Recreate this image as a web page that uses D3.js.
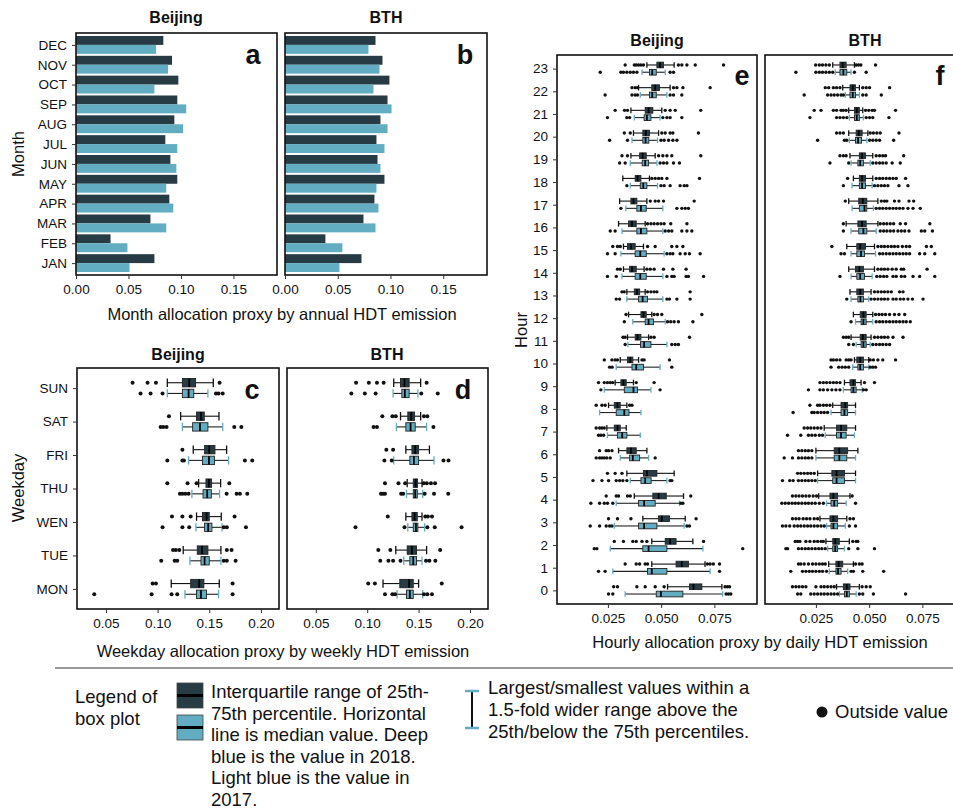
<!DOCTYPE html>
<html>
<head>
<meta charset="utf-8">
<script src="https://d3js.org/d3.v7.min.js"></script>
<style>
  body { margin: 0; background: #fff; }
  text { font-family: "Liberation Sans", Arial, sans-serif; fill: #111; }
</style>
</head>
<body>
<div id="chart"></div>
<script>
// ---------- data ----------
const months = ["JAN","FEB","MAR","APR","MAY","JUN","JUL","AUG","SEP","OCT","NOV","DEC"];
const monthBJ2018  = [0.0747,0.0329,0.0709,0.0889,0.0965,0.0899,0.0851,0.0937,0.0965,0.0975,0.0915,0.0832];
const monthBJ2017  = [0.0510,0.0490,0.0860,0.0927,0.0860,0.0956,0.0965,0.1020,0.1050,0.0747,0.0877,0.0763];
const monthBTH2018 = [0.0725,0.0383,0.0744,0.0848,0.0943,0.0877,0.0867,0.0905,0.0972,0.0990,0.0924,0.0858];
const monthBTH2017 = [0.0516,0.0544,0.0858,0.0886,0.0867,0.0905,0.0943,0.0972,0.1010,0.0839,0.0896,0.0791];

const weekdays = ["MON","TUE","WEN","THU","FRI","SAT","SUN"];
// box stats: [lower whisker, q1, median, q3, upper whisker]
const weekBJ2018 = [
  [0.1132,0.1320,0.1403,0.1448,0.1597],[0.1248,0.1384,0.1430,0.1487,0.1613],[0.1377,0.1435,0.1474,0.1500,0.1616],
  [0.1397,0.1468,0.1497,0.1523,0.1610],[0.1345,0.1455,0.1500,0.1555,0.1668],[0.1223,0.1377,0.1420,0.1452,0.1594],
  [0.1094,0.1240,0.1306,0.1368,0.1539]];
const weekBJ2018Out = [
  [0.0952,0.0984,0.1726],[0.1150,0.1177,0.1210,0.1670,0.1716],[0.1139,0.1240,0.1320,0.1745],
  [0.1094,0.1290,0.1377,0.1694],[0.1240],[0.1110],[0.0758,0.0903,0.0984,0.1600]];
const weekBJ2017 = [
  [0.1265,0.1377,0.1420,0.1474,0.1590],[0.1313,0.1420,0.1455,0.1500,0.1613],[0.1371,0.1455,0.1490,0.1526,0.1623],
  [0.1332,0.1440,0.1480,0.1520,0.1600],[0.1300,0.1435,0.1497,0.1550,0.1687],[0.1240,0.1339,0.1410,0.1487,0.1630],
  [0.1094,0.1240,0.1300,0.1350,0.1487]];
const weekBJ2017Out = [
  [0.0387,0.0942,0.1135,0.1190,0.1726],[0.1035,0.1165,0.1190,0.1640,0.1670,0.1755],[0.1048,0.1240,0.1306,0.1640,0.1670,0.1855],
  [0.1216,0.1240,0.1268,0.1300,0.1668,0.1765,0.1797,0.1868],[0.1094,0.1240,0.1255,0.1845,0.1916],
  [0.1029,0.1055,0.1087,0.1742,0.1810],[0.0835,0.0932,0.1048,0.1565,0.1590,0.1630]];
const weekBTH2018 = [
  [0.1154,0.1317,0.1408,0.1448,0.1500],[0.1278,0.1389,0.1435,0.1480,0.1578],[0.1376,0.1435,0.1461,0.1487,0.1533],
  [0.1389,0.1448,0.1471,0.1490,0.1533],[0.1376,0.1435,0.1467,0.1500,0.1605],[0.1324,0.1395,0.1428,0.1461,0.1520],
  [0.1258,0.1324,0.1363,0.1408,0.1520]];
const weekBTH2018Out = [
  [0.1010,0.1075,0.1725],[0.1108,0.1225,0.1710],[0.1200,0.1565,0.1590,0.1630],
  [0.1173,0.1304,0.1369,0.1550,0.1580,0.1620,0.1660],[0.1186,0.1252],[0.1147,0.1245,0.1278,0.1552,0.1585],
  [0.0892,0.1016,0.1095,0.1160,0.1578]];
const weekBTH2017 = [
  [0.1291,0.1382,0.1415,0.1448,0.1540],[0.1356,0.1415,0.1448,0.1480,0.1533],[0.1395,0.1448,0.1474,0.1493,0.1559],
  [0.1382,0.1448,0.1467,0.1487,0.1540],[0.1258,0.1415,0.1454,0.1500,0.1650],[0.1284,0.1376,0.1422,0.1467,0.1578],
  [0.1252,0.1337,0.1366,0.1408,0.1493]];
const weekBTH2017Out = [
  [0.1173,0.1245,0.1271,0.1552,0.1585,0.1630],[0.1127,0.1206,0.1252,0.1324,0.1572,0.1605,0.1663],
  [0.0886,0.1363,0.1585,0.1657,0.1918],[0.1134,0.1154,0.1173,0.1330,0.1350,0.1559,0.1650,0.1788],
  [0.1167,0.1239,0.1742,0.1791],[0.1062,0.1095,0.1644],[0.0846,0.0977,0.1082,0.1526,0.1686]];

const hours = ["0","1","2","3","4","5","6","7","8","9","10","11","12","13","14","15","16","17","18","19","20","21","22","23"];
const hourBJ2018 = [
  [0.0530,0.0633,0.0652,0.0691,0.0785],[0.0456,0.0570,0.0597,0.0628,0.0706],[0.0456,0.0519,0.0542,0.0570,0.0649],
  [0.0414,0.0488,0.0503,0.0539,0.0613],[0.0374,0.0461,0.0488,0.0524,0.0605],[0.0339,0.0417,0.0433,0.0480,0.0561],
  [0.0300,0.0339,0.0358,0.0383,0.0433],[0.0245,0.0280,0.0295,0.0308,0.0336],[0.0253,0.0280,0.0295,0.0308,0.0339],
  [0.0284,0.0311,0.0323,0.0336,0.0370],[0.0308,0.0342,0.0355,0.0367,0.0394],[0.0342,0.0378,0.0389,0.0405,0.0441],
  [0.0347,0.0405,0.0417,0.0430,0.0456],[0.0339,0.0374,0.0386,0.0399,0.0425],[0.0323,0.0352,0.0363,0.0383,0.0420],
  [0.0323,0.0342,0.0358,0.0378,0.0417],[0.0300,0.0347,0.0363,0.0383,0.0425],[0.0305,0.0358,0.0370,0.0386,0.0433],
  [0.0320,0.0378,0.0389,0.0405,0.0445],[0.0358,0.0399,0.0413,0.0430,0.0472],[0.0370,0.0414,0.0428,0.0445,0.0488],
  [0.0358,0.0425,0.0441,0.0461,0.0503],[0.0394,0.0456,0.0472,0.0492,0.0542],[0.0433,0.0480,0.0495,0.0511,0.0561]];
const hourBJ2018Out = [
  [0.0277,0.0295,0.0386,0.0425,0.0472,0.0514,0.0800,0.0811,0.0821],
  [0.0331,0.0383,0.0399,0.0425,0.0436,0.0717,0.0730,0.0745,0.0774],
  [0.0280,0.0323,0.0367,0.0383,0.0410,0.0433,0.0699],
  [0.0253,0.0295,0.0358,0.0664],
  [0.0242,0.0289,0.0300,0.0342,0.0355,0.0639],
  [0.0248,0.0284,0.0316],
  [0.0211,0.0242,0.0253,0.0269],
  [0.0195,0.0211,0.0222,0.0233],
  [0.0195,0.0222,0.0237,0.0352,0.0363],
  [0.0206,0.0233,0.0248,0.0261,0.0273,0.0383,0.0467],
  [0.0233,0.0269,0.0284,0.0295,0.0410,0.0420,0.0539],
  [0.0321,0.0331,0.0452,0.0467,0.0633],
  [0.0335,0.0467,0.0483,0.0503,0.0691],
  [0.0316,0.0327,0.0436,0.0452,0.0467,0.0480,0.0636],
  [0.0295,0.0308,0.0433,0.0449,0.0467,0.0511,0.0555,0.0617],
  [0.0273,0.0295,0.0308,0.0436,0.0472,0.0550,0.0574,0.0602],
  [0.0436,0.0452,0.0467,0.0483,0.0499,0.0514,0.0545,0.0621],
  [0.0449,0.0472,0.0488,0.0511,0.0655],
  [0.0456,0.0472,0.0488,0.0503,0.0527,0.0680],
  [0.0316,0.0342,0.0488,0.0508,0.0527,0.0550,0.0686],
  [0.0327,0.0355,0.0503,0.0519,0.0542,0.0555,0.0675],
  [0.0284,0.0328,0.0342,0.0519,0.0542,0.0566,0.0686],
  [0.0363,0.0378,0.0389,0.0558,0.0574,0.0602,0.0730],
  [0.0331,0.0374,0.0383,0.0394,0.0405,0.0417,0.0581,0.0597,0.0621,0.0660,0.0793]];
const hourBJ2017 = [
  [0.0331,0.0477,0.0499,0.0602,0.0789],[0.0273,0.0436,0.0456,0.0527,0.0730],[0.0261,0.0414,0.0441,0.0527,0.0696],
  [0.0280,0.0394,0.0420,0.0480,0.0608],[0.0289,0.0394,0.0420,0.0472,0.0586],[0.0355,0.0405,0.0425,0.0453,0.0527],
  [0.0308,0.0352,0.0367,0.0399,0.0441],[0.0248,0.0295,0.0317,0.0339,0.0402],[0.0211,0.0289,0.0327,0.0349,0.0405],
  [0.0233,0.0327,0.0370,0.0389,0.0452],[0.0289,0.0363,0.0383,0.0417,0.0495],[0.0344,0.0403,0.0420,0.0452,0.0527],
  [0.0367,0.0425,0.0441,0.0464,0.0519],[0.0339,0.0394,0.0413,0.0436,0.0508],[0.0316,0.0378,0.0402,0.0430,0.0508],
  [0.0311,0.0378,0.0402,0.0430,0.0514],[0.0316,0.0386,0.0405,0.0433,0.0508],[0.0334,0.0386,0.0405,0.0430,0.0508],
  [0.0355,0.0402,0.0416,0.0433,0.0483],[0.0355,0.0411,0.0425,0.0441,0.0480],[0.0363,0.0414,0.0427,0.0442,0.0483],
  [0.0374,0.0420,0.0433,0.0452,0.0495],[0.0402,0.0445,0.0458,0.0477,0.0527],[0.0410,0.0445,0.0458,0.0477,0.0519]];
const hourBJ2017Out = [
  [0.0253,0.0273,0.0805,0.0816,0.0827],
  [0.0206,0.0237,0.0774],
  [0.0186,0.0198,0.0883],
  [0.0167,0.0211,0.0242,0.0258,0.0269,0.0621,0.0633],
  [0.0170,0.0211,0.0233,0.0248,0.0273,0.0592,0.0602],
  [0.0180,0.0222,0.0253,0.0289,0.0305,0.0320,0.0339,0.0542,0.0550],
  [0.0195,0.0211,0.0222,0.0233,0.0245,0.0261,0.0472],
  [0.0206,0.0217,0.0230],
  [],
  [0.0217,0.0495],
  [0.0258,0.0270,0.0550],
  [0.0331,0.0550,0.0566,0.0581],
  [0.0327,0.0530,0.0545,0.0561,0.0581,0.0649],
  [0.0289,0.0305,0.0527,0.0539,0.0574,0.0636],
  [0.0248,0.0289,0.0527,0.0550,0.0561,0.0617,0.0628,0.0699],
  [0.0248,0.0284,0.0527,0.0542,0.0555,0.0589,0.0613,0.0633,0.0683],
  [0.0261,0.0284,0.0519,0.0535,0.0550,0.0597,0.0621,0.0644],
  [0.0311,0.0574,0.0597,0.0613,0.0628],
  [0.0339,0.0499,0.0514,0.0542,0.0589,0.0608,0.0621],
  [0.0305,0.0331,0.0495,0.0511,0.0527,0.0558,0.0586],
  [0.0258,0.0342,0.0499,0.0514,0.0535,0.0555,0.0574],
  [0.0248,0.0339,0.0352,0.0508,0.0527,0.0542,0.0597],
  [0.0237,0.0363,0.0378,0.0389,0.0542,0.0558,0.0597],
  [0.0214,0.0311,0.0323,0.0339,0.0355,0.0370,0.0386,0.0542,0.0558]];
const hourBTH2018 = [
  [0.0347,0.0379,0.0395,0.0410,0.0454],[0.0310,0.0344,0.0357,0.0376,0.0426],[0.0297,0.0329,0.0341,0.0360,0.0407],
  [0.0269,0.0316,0.0332,0.0352,0.0395],[0.0263,0.0316,0.0332,0.0352,0.0410],[0.0258,0.0325,0.0347,0.0384,0.0436],
  [0.0250,0.0336,0.0360,0.0399,0.0447],[0.0289,0.0347,0.0368,0.0395,0.0436],[0.0329,0.0368,0.0388,0.0399,0.0436],
  [0.0384,0.0410,0.0426,0.0436,0.0462],[0.0431,0.0442,0.0458,0.0473,0.0498],[0.0415,0.0458,0.0470,0.0486,0.0509],
  [0.0426,0.0458,0.0473,0.0486,0.0517],[0.0410,0.0442,0.0458,0.0473,0.0509],[0.0404,0.0436,0.0454,0.0473,0.0525],
  [0.0395,0.0442,0.0458,0.0483,0.0525],[0.0392,0.0447,0.0467,0.0486,0.0541],[0.0404,0.0451,0.0470,0.0489,0.0541],
  [0.0426,0.0454,0.0467,0.0483,0.0517],[0.0410,0.0454,0.0467,0.0483,0.0517],[0.0404,0.0439,0.0451,0.0467,0.0494],
  [0.0404,0.0431,0.0442,0.0454,0.0470],[0.0376,0.0410,0.0423,0.0436,0.0454],[0.0329,0.0363,0.0376,0.0392,0.0431]];
const hourBTH2018Out = [
  [0.0140,0.0156,0.0171,0.0187,0.0203,0.0250,0.0274,0.0289,0.0305,0.0321,0.0336,0.0467,0.0486,0.0505],
  [0.0168,0.0179,0.0195,0.0215,0.0234,0.0250,0.0266,0.0281,0.0294,0.0436,0.0454,0.0467],
  [0.0153,0.0164,0.0175,0.0203,0.0222,0.0242,0.0258,0.0274,0.0285,0.0423,0.0439,0.0447],
  [0.0140,0.0156,0.0171,0.0190,0.0206,0.0222,0.0242,0.0258,0.0410,0.0426],
  [0.0140,0.0156,0.0171,0.0187,0.0203,0.0219,0.0237,0.0253,0.0420],
  [0.0164,0.0179,0.0195,0.0211,0.0226,0.0242],
  [0.0168,0.0184,0.0200,0.0215,0.0231],
  [0.0195,0.0211,0.0226,0.0242,0.0258,0.0274],
  [0.0222,0.0258,0.0269,0.0285,0.0300,0.0316],
  [0.0269,0.0285,0.0300,0.0316,0.0332,0.0347,0.0363,0.0478,0.0525],
  [0.0321,0.0332,0.0347,0.0363,0.0392,0.0404,0.0415,0.0505,0.0520,0.0541,0.0564,0.0624],
  [0.0379,0.0392,0.0404,0.0525,0.0541,0.0557,0.0572,0.0588,0.0612,0.0659],
  [0.0530,0.0546,0.0561,0.0577,0.0596,0.0619,0.0640,0.0667],
  [0.0525,0.0541,0.0557,0.0572,0.0588,0.0604,0.0643,0.0659],
  [0.0541,0.0557,0.0572,0.0588,0.0608,0.0627,0.0651,0.0662,0.0772],
  [0.0325,0.0541,0.0557,0.0572,0.0588,0.0604,0.0619,0.0635,0.0656,0.0674,0.0690,0.0769,0.0792],
  [0.0379,0.0552,0.0568,0.0583,0.0599,0.0615,0.0646,0.0671,0.0785],
  [0.0388,0.0557,0.0572,0.0583,0.0619,0.0640,0.0687,0.0709],
  [0.0399,0.0533,0.0549,0.0564,0.0580,0.0596,0.0612,0.0627,0.0671],
  [0.0363,0.0379,0.0392,0.0533,0.0549,0.0564,0.0577,0.0662],
  [0.0347,0.0363,0.0379,0.0505,0.0520,0.0536,0.0552,0.0640],
  [0.0242,0.0274,0.0332,0.0347,0.0368,0.0379,0.0392,0.0483,0.0498,0.0514,0.0525,0.0624],
  [0.0294,0.0310,0.0332,0.0347,0.0363,0.0470,0.0486,0.0502,0.0596],
  [0.0249,0.0266,0.0281,0.0297,0.0313,0.0439,0.0450,0.0461,0.0530]];
const hourBTH2017 = [
  [0.0360,0.0384,0.0395,0.0407,0.0439],[0.0313,0.0344,0.0354,0.0368,0.0399],[0.0305,0.0329,0.0341,0.0352,0.0384],
  [0.0300,0.0321,0.0332,0.0352,0.0388],[0.0300,0.0321,0.0336,0.0352,0.0392],[0.0258,0.0329,0.0347,0.0384,0.0436],
  [0.0250,0.0336,0.0360,0.0395,0.0436],[0.0294,0.0347,0.0368,0.0392,0.0431],[0.0321,0.0368,0.0384,0.0399,0.0436],
  [0.0379,0.0415,0.0426,0.0439,0.0467],[0.0423,0.0447,0.0458,0.0473,0.0498],[0.0439,0.0462,0.0473,0.0486,0.0505],
  [0.0436,0.0462,0.0473,0.0486,0.0517],[0.0415,0.0447,0.0459,0.0473,0.0498],[0.0415,0.0442,0.0458,0.0478,0.0514],
  [0.0415,0.0442,0.0462,0.0478,0.0530],[0.0415,0.0451,0.0473,0.0489,0.0533],[0.0420,0.0454,0.0478,0.0489,0.0520],
  [0.0420,0.0454,0.0467,0.0483,0.0514],[0.0415,0.0447,0.0458,0.0473,0.0505],[0.0407,0.0436,0.0448,0.0464,0.0489],
  [0.0407,0.0431,0.0442,0.0454,0.0473],[0.0388,0.0410,0.0423,0.0436,0.0454],[0.0341,0.0363,0.0379,0.0395,0.0415]];
const hourBTH2017Out = [
  [0.0164,0.0179,0.0226,0.0242,0.0258,0.0274,0.0289,0.0305,0.0321,0.0336,0.0352,0.0454,0.0470,0.0520,0.0671],
  [0.0132,0.0187,0.0203,0.0219,0.0234,0.0250,0.0266,0.0281,0.0300,0.0415,0.0426,0.0470,0.0568],
  [0.0109,0.0117,0.0168,0.0184,0.0200,0.0215,0.0231,0.0247,0.0263,0.0278,0.0294,0.0404,0.0447,0.0525],
  [0.0093,0.0109,0.0127,0.0148,0.0164,0.0179,0.0195,0.0211,0.0226,0.0242,0.0258,0.0274,0.0289,0.0407,0.0436],
  [0.0090,0.0106,0.0122,0.0138,0.0153,0.0168,0.0184,0.0200,0.0215,0.0231,0.0247,0.0266,0.0285,0.0436],
  [0.0093,0.0127,0.0143,0.0168,0.0184,0.0200,0.0215,0.0231,0.0247],
  [0.0101,0.0140,0.0168,0.0184,0.0200,0.0215,0.0231],
  [0.0117,0.0179,0.0215,0.0231,0.0247,0.0266,0.0281],
  [0.0143,0.0231,0.0242,0.0258,0.0274,0.0289,0.0305],
  [0.0215,0.0269,0.0285,0.0305,0.0325,0.0344,0.0363,0.0473,0.0486],
  [0.0321,0.0357,0.0373,0.0388,0.0404,0.0505,0.0517,0.0530],
  [0.0404,0.0426,0.0517,0.0533,0.0549,0.0564,0.0580,0.0596],
  [0.0415,0.0533,0.0549,0.0564,0.0580,0.0596,0.0612,0.0627,0.0643,0.0659,0.0674,0.0693],
  [0.0395,0.0509,0.0525,0.0541,0.0557,0.0572,0.0588,0.0612,0.0627,0.0646,0.0662,0.0682,0.0703,0.0753],
  [0.0363,0.0536,0.0552,0.0568,0.0583,0.0612,0.0627,0.0651,0.0667,0.0706,0.0737,0.0808],
  [0.0368,0.0384,0.0549,0.0564,0.0580,0.0596,0.0612,0.0627,0.0643,0.0659,0.0674,0.0690,0.0737,0.0761,0.0808],
  [0.0379,0.0552,0.0568,0.0583,0.0599,0.0615,0.0635,0.0651,0.0667,0.0687,0.0745,0.0761,0.0797],
  [0.0533,0.0549,0.0564,0.0580,0.0596,0.0612,0.0627,0.0643,0.0659,0.0682,0.0706,0.0740],
  [0.0379,0.0525,0.0541,0.0557,0.0572,0.0588,0.0640,0.0682],
  [0.0316,0.0404,0.0517,0.0533,0.0549,0.0564,0.0580,0.0608,0.0646],
  [0.0258,0.0384,0.0395,0.0502,0.0517,0.0533,0.0549,0.0615],
  [0.0222,0.0347,0.0363,0.0379,0.0395,0.0486,0.0502,0.0517,0.0593],
  [0.0195,0.0305,0.0321,0.0336,0.0352,0.0368,0.0379,0.0470,0.0486,0.0557],
  [0.0156,0.0250,0.0266,0.0281,0.0297,0.0313,0.0329,0.0431,0.0486]];

// ---------- drawing ----------
const dark = "#263b44", light = "#63adc3";
const W = 953, H = 811;
const svg = d3.select("#chart").append("svg").attr("width", W).attr("height", H);

function catScale(cats, y0, y1) {
  return d3.scalePoint().domain(cats.slice().reverse()).range([y0, y1]).padding(0.6);
}

function frame(x0, x1, y0, y1) {
  svg.append("rect").attr("x", x0).attr("y", y0).attr("width", x1 - x0).attr("height", y1 - y0)
    .attr("fill", "none").attr("stroke", "#111").attr("stroke-width", 1.6);
}

function xAxis(x, y1, ticks, fmt) {
  const g = svg.append("g").attr("transform", `translate(0,${y1})`)
    .call(d3.axisBottom(x).tickValues(ticks).tickSize(4).tickPadding(5).tickFormat(d3.format(fmt)));
  g.select(".domain").remove();
  g.selectAll("line").attr("stroke", "#333");
  g.selectAll("text").style("font-size", "13.5px").attr("fill", "#222");
}

function yAxis(y, x0) {
  const g = svg.append("g").attr("transform", `translate(${x0},0)`)
    .call(d3.axisLeft(y).tickSize(4).tickPadding(5));
  g.select(".domain").remove();
  g.selectAll("line").attr("stroke", "#333");
  g.selectAll("text").style("font-size", "13.5px").attr("fill", "#222");
}

function title(txt, x, y) {
  svg.append("text").attr("x", x).attr("y", y).attr("text-anchor", "middle")
    .style("font-size", "16px").style("font-weight", "bold").text(txt);
}
function letter(txt, x, y) {
  svg.append("text").attr("x", x).attr("y", y).attr("text-anchor", "middle")
    .style("font-size", "27px").style("font-weight", "bold").text(txt);
}
function axisTitle(txt, x, y, rot) {
  const t = svg.append("text").attr("text-anchor", "middle").style("font-size", "16.5px").text(txt);
  if (rot) t.attr("transform", `translate(${x},${y}) rotate(-90)`);
  else t.attr("x", x).attr("y", y);
}

function barPanel(x0, x1, y0, y1, v18, v17, showY) {
  const x = d3.scaleLinear().domain([0, 0.1915]).range([x0, x1]);
  const y = catScale(months, y0, y1);
  const bh = y.step() * 0.45;
  const g = svg.append("g");
  g.selectAll(".b18").data(months).join("rect")
    .attr("x", x(0)).attr("y", d => y(d) - bh).attr("height", bh)
    .attr("width", (d, i) => x(v18[i]) - x(0)).attr("fill", dark);
  g.selectAll(".b17").data(months).join("rect")
    .attr("x", x(0)).attr("y", d => y(d)).attr("height", bh)
    .attr("width", (d, i) => x(v17[i]) - x(0)).attr("fill", light);
  frame(x0, x1, y0, y1);
  xAxis(x, y1, [0, 0.05, 0.1, 0.15], ".2f");
  if (showY) yAxis(y, x0);
}

function boxPanel(cats, x, x0, x1, y0, y1, s18, o18, s17, o17, r, showY) {
  const y = catScale(cats, y0, y1);
  const step = y.step(), off = step * 0.16, bh = step * 0.25;
  const g = svg.append("g");
  const sets = [
    { s: s18, o: o18, fill: dark, dy: -off, wl: "#111", cap: "#111" },
    { s: s17, o: o17, fill: light, dy: off, wl: "#222", cap: light }
  ];
  sets.forEach(set => {
    cats.forEach((c, i) => {
      const st = set.s[i], cy = y(c) + set.dy;
      g.append("line").attr("x1", x(st[0])).attr("x2", x(st[1])).attr("y1", cy).attr("y2", cy)
        .attr("stroke", set.wl).attr("stroke-width", 1.1);
      g.append("line").attr("x1", x(st[3])).attr("x2", x(st[4])).attr("y1", cy).attr("y2", cy)
        .attr("stroke", set.wl).attr("stroke-width", 1.1);
      [st[0], st[4]].forEach(v => g.append("line").attr("x1", x(v)).attr("x2", x(v))
        .attr("y1", cy - bh / 2).attr("y2", cy + bh / 2).attr("stroke", set.cap).attr("stroke-width", 1.3));
      g.append("rect").attr("x", x(st[1])).attr("y", cy - bh / 2)
        .attr("width", x(st[3]) - x(st[1])).attr("height", bh)
        .attr("fill", set.fill).attr("stroke", "#222").attr("stroke-width", 0.9);
      g.append("line").attr("x1", x(st[2])).attr("x2", x(st[2]))
        .attr("y1", cy - bh / 2).attr("y2", cy + bh / 2).attr("stroke", "#000").attr("stroke-width", 1.8);
      g.selectAll(null).data(set.o[i]).join("circle")
        .attr("cx", d => x(d)).attr("cy", cy).attr("r", r).attr("fill", "#111");
    });
  });
  frame(x0, x1, y0, y1);
  if (showY) yAxis(y, x0);
}

// panels a, b
title("Beijing", 176, 23);
title("BTH", 386, 23);
barPanel(76, 277, 33, 275, monthBJ2018, monthBJ2017, true);
barPanel(285, 487, 33, 275, monthBTH2018, monthBTH2017, false);
letter("a", 253, 64);
letter("b", 465, 64);
axisTitle("Month allocation proxy by annual HDT emission", 282, 320);
axisTitle("Month", 24, 154, true);

// panels c, d
const xWeekC = d3.scaleLinear().domain([0.022, 0.2175]).range([77, 279]);
const xWeekD = d3.scaleLinear().domain([0.022, 0.2175]).range([287, 488]);
title("Beijing", 178, 360);
title("BTH", 387, 360);
boxPanel(weekdays, xWeekC, 77, 279, 368, 609, weekBJ2018, weekBJ2018Out, weekBJ2017, weekBJ2017Out, 2, true);
boxPanel(weekdays, xWeekD, 287, 488, 368, 609, weekBTH2018, weekBTH2018Out, weekBTH2017, weekBTH2017Out, 2, false);
xAxis(xWeekC, 609, [0.05, 0.1, 0.15, 0.2], ".2f");
xAxis(xWeekD, 609, [0.05, 0.1, 0.15, 0.2], ".2f");
letter("c", 252, 399);
letter("d", 463, 399);
axisTitle("Weekday allocation proxy by weekly HDT emission", 283, 657);
axisTitle("Weekday", 24, 488, true);

// panels e, f
const xHourE = d3.scaleLinear().domain([0.0011, 0.095]).range([557, 757]);
const xHourF = d3.scaleLinear().domain([0.0011, 0.095]).range([765, 965]);
title("Beijing", 657, 46);
title("BTH", 865, 46);
boxPanel(hours, xHourE, 557, 757, 55, 604, hourBJ2018, hourBJ2018Out, hourBJ2017, hourBJ2017Out, 1.7, true);
boxPanel(hours, xHourF, 765, 965, 55, 604, hourBTH2018, hourBTH2018Out, hourBTH2017, hourBTH2017Out, 1.7, false);
xAxis(xHourE, 604, [0.025, 0.05, 0.075], ".3f");
xAxis(xHourF, 604, [0.025, 0.05, 0.075], ".3f");
letter("e", 742, 85);
letter("f", 940, 85);
axisTitle("Hourly allocation proxy by daily HDT emission", 760, 648);
axisTitle("Hour", 527, 330, true);

// ---------- legend ----------
svg.append("line").attr("x1", 55).attr("x2", W).attr("y1", 668).attr("y2", 668)
  .attr("stroke", "#999").attr("stroke-width", 1.8);

const lg = svg.append("g").style("font-size", "18.5px");
lg.append("text").attr("x", 75).attr("y", 703).text("Legend of");
lg.append("text").attr("x", 75).attr("y", 725).text("box plot");
[[dark, 683], [light, 715]].forEach(([c, yy]) => {
  lg.append("rect").attr("x", 177).attr("y", yy).attr("width", 26).attr("height", 25)
    .attr("fill", c).attr("stroke", "#444").attr("stroke-width", 0.8);
  lg.append("line").attr("x1", 177).attr("x2", 203).attr("y1", yy + 12.5).attr("y2", yy + 12.5)
    .attr("stroke", "#000").attr("stroke-width", 3);
});
const boxLines = ["Interquartile range of 25th-", "75th percentile. Horizontal", "line is median value. Deep",
  "blue is the value in 2018.", "Light blue is the value in", "2017."];
boxLines.forEach((t, i) => lg.append("text").attr("x", 211).attr("y", 698 + i * 21.5).text(t));

lg.append("line").attr("x1", 472).attr("x2", 472).attr("y1", 691).attr("y2", 728).attr("stroke", "#111").attr("stroke-width", 2);
[691, 728].forEach(yy => lg.append("line").attr("x1", 465).attr("x2", 479).attr("y1", yy).attr("y2", yy)
  .attr("stroke", light).attr("stroke-width", 2.5));
const whiskLines = ["Largest/smallest values within a", "1.5-fold wider range above the", "25th/below the 75th percentiles."];
whiskLines.forEach((t, i) => lg.append("text").attr("x", 488).attr("y", 694 + i * 22).text(t));

lg.append("circle").attr("cx", 822).attr("cy", 712).attr("r", 5.5).attr("fill", "#111");
lg.append("text").attr("x", 835).attr("y", 718).text("Outside value");
</script>
</body>
</html>
